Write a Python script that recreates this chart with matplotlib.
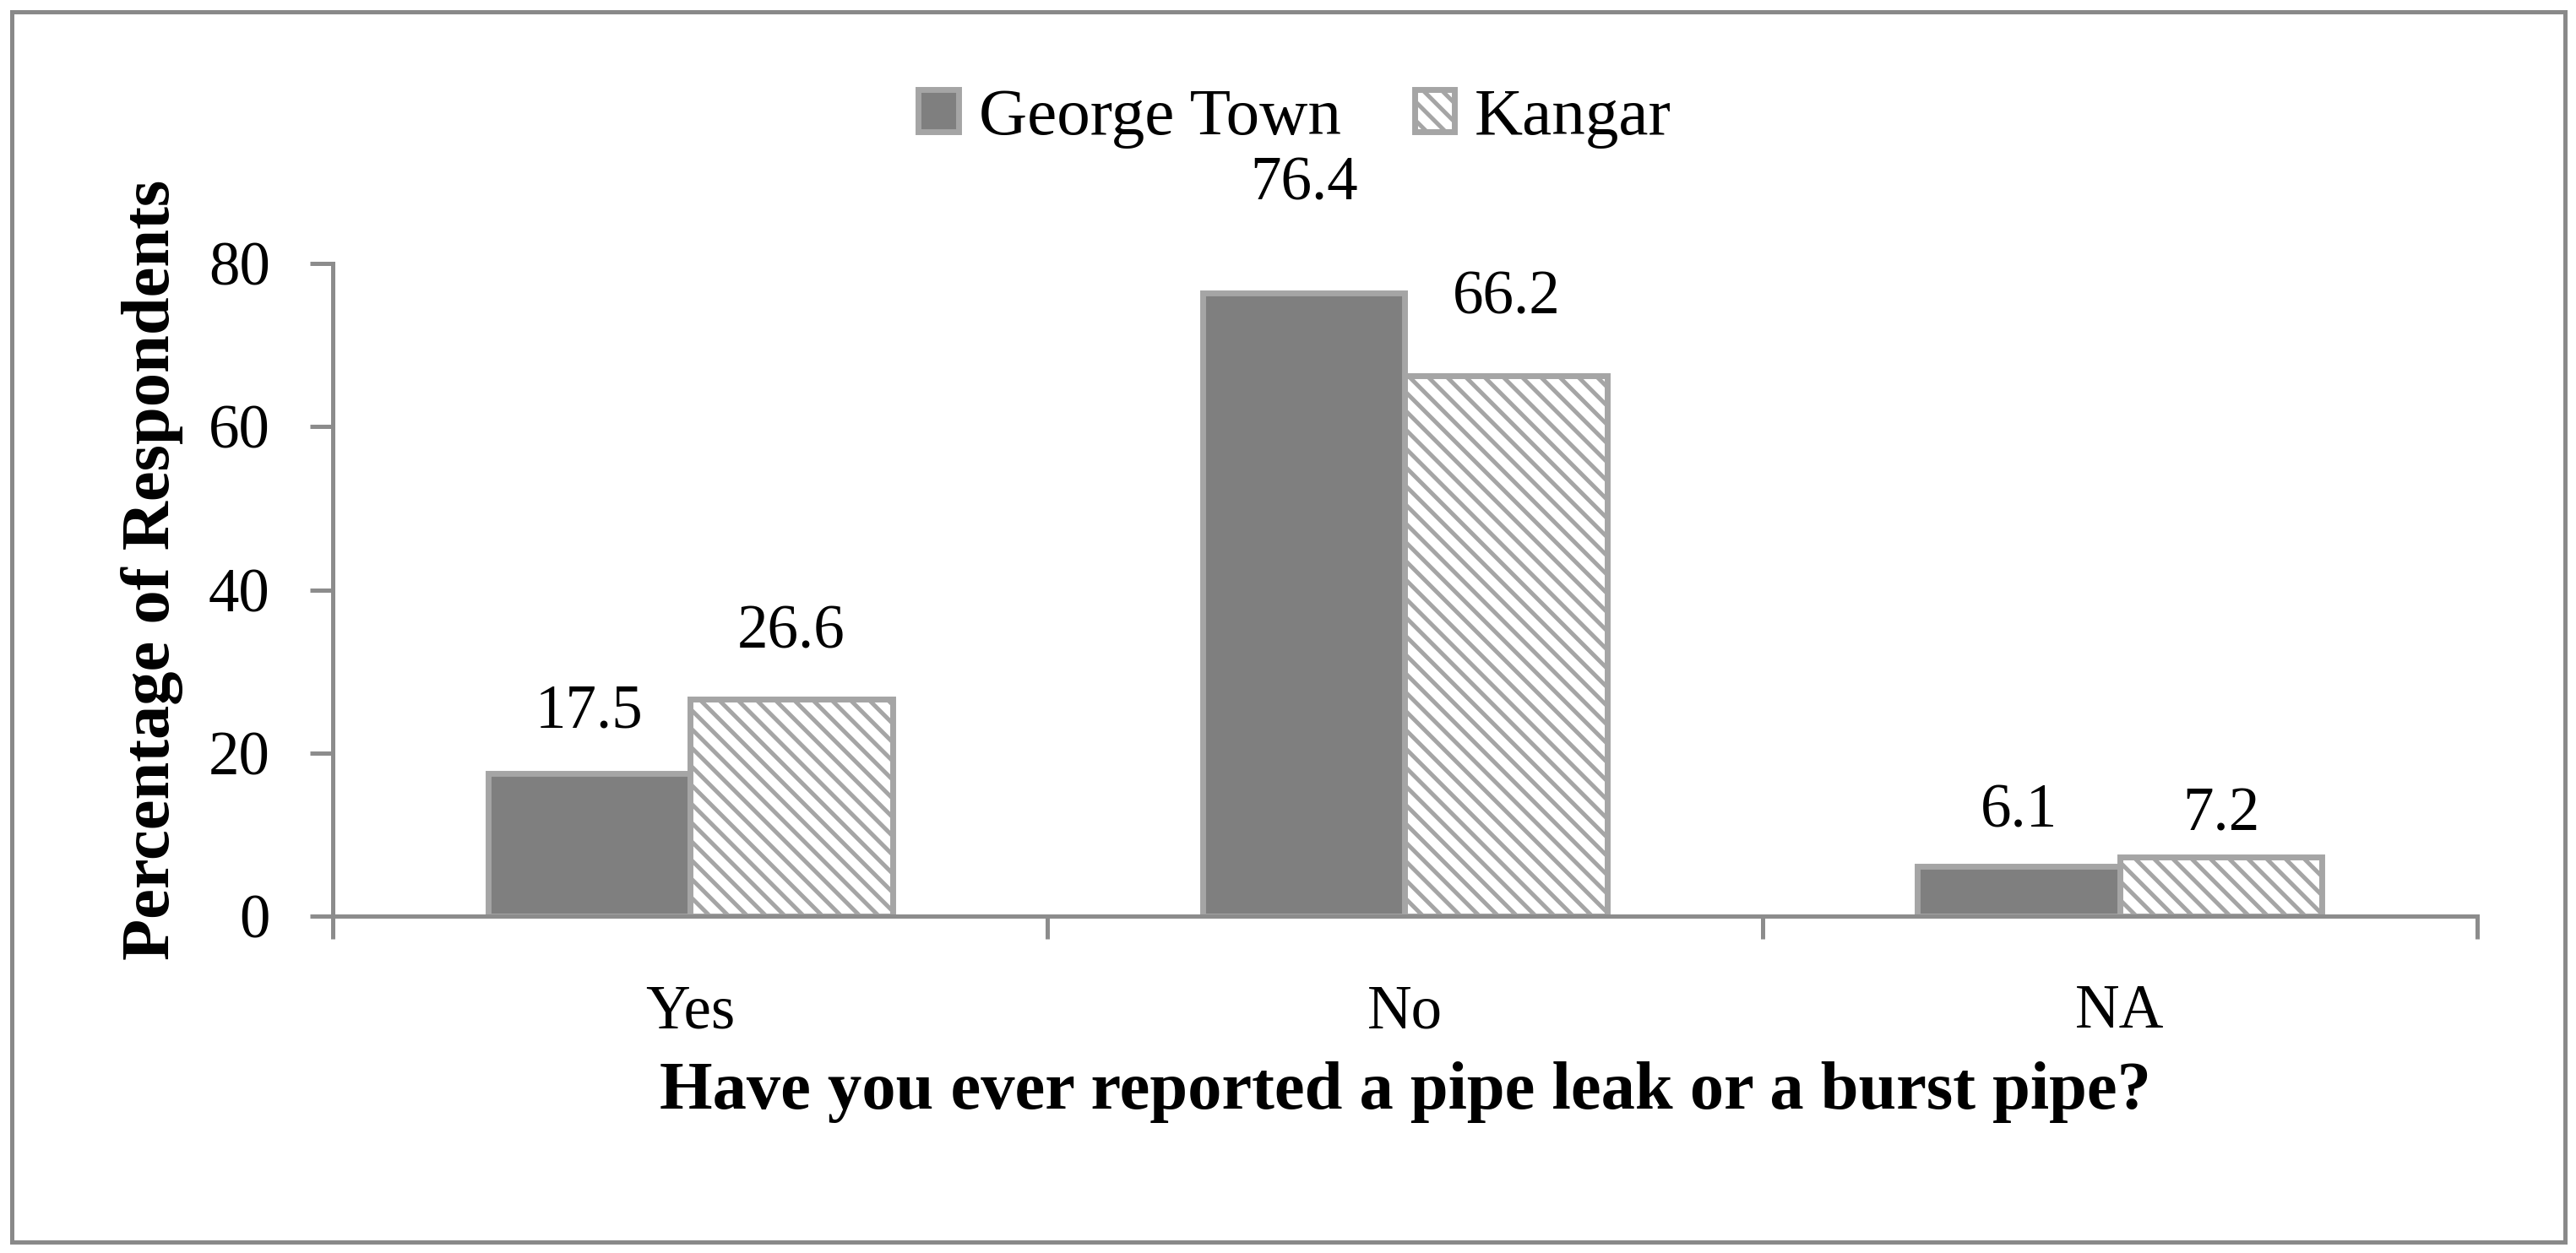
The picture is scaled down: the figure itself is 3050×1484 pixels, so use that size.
import numpy as np
import matplotlib
matplotlib.use("Agg")
import matplotlib.pyplot as plt
from matplotlib.patches import Rectangle

# data
categories = ["Yes", "No", "NA"]
george_town = [17.5, 76.4, 6.1]
kangar = [26.6, 66.2, 7.2]
series_names = ["George Town", "Kangar"]
y_ticks = [0, 20, 40, 60, 80]

# label offsets above each bar (points), as placed in the original
gt_label_offset = [26, 46, 23]
kg_label_offset = [28, 33, 18]

plt.rcParams["font.family"] = ["Liberation Serif", "DejaVu Serif"]
plt.rcParams["hatch.linewidth"] = 1.8
plt.rcParams["hatch.color"] = "#7f7f7f"

W, H, DPI = 3050, 1484, 200
fig = plt.figure(figsize=(W / DPI, H / DPI), dpi=DPI)
ax = fig.add_axes([394 / W, 1 - 1085 / H, (2933 - 394) / W, (1085 - 312) / H])

edge = "#a5a5a5"
axis_gray = "#8c8c8c"
fs = 26.3       # ticks and value labels
fs_leg = 28.5
fs_lab = 29

x = np.arange(len(categories))
bw = 0.283
b1 = ax.bar(x - bw / 2, george_town, bw, color="#7f7f7f", edgecolor=edge,
            linewidth=2.5, label=series_names[0], zorder=2)
b2 = ax.bar(x + bw / 2, kangar, bw, color="white", edgecolor=edge, hatch="\\\\\\",
            linewidth=2.5, label=series_names[1], zorder=2)

for bars, vals, offs in [(b1, george_town, gt_label_offset), (b2, kangar, kg_label_offset)]:
    for rect, v, off in zip(bars, vals, offs):
        ax.annotate(f"{v:.1f}", (rect.get_x() + rect.get_width() / 2, v),
                    xytext=(0, off), textcoords="offset points",
                    ha="center", va="center", fontsize=fs)

ax.set_xlim(-0.5, len(categories) - 0.5)
ax.set_ylim(0, 80)
ax.set_yticks(y_ticks)
ax.tick_params(axis="y", labelsize=fs, length=9.7, width=1.8, color=axis_gray, pad=17)

# ticks at the category boundaries, labels at the centres
ax.set_xticks(np.arange(len(categories) + 1) - 0.5)
ax.set_xticklabels([])
ax.set_xticks(x, minor=True)
ax.set_xticklabels(categories, minor=True, fontsize=fs)
ax.tick_params(axis="x", which="major", length=9.7, width=1.8, color=axis_gray)
ax.tick_params(axis="x", which="minor", length=0, pad=29)

for s in ["top", "right"]:
    ax.spines[s].set_visible(False)
for s in ["left", "bottom"]:
    ax.spines[s].set_color(axis_gray)
    ax.spines[s].set_linewidth(1.8)
    ax.spines[s].set_zorder(3)

fig.text(180 / W, 1 - 675 / H, "Percentage of Respondents", rotation=90,
         ha="center", va="center", fontsize=fs_lab, fontweight="bold")
fig.text((394 + 2933) / 2 / W, 1 - 1313 / H,
         "Have you ever reported a pipe leak or a burst pipe?",
         ha="center", va="baseline", fontsize=fs_lab, fontweight="bold")

fig.legend(loc="center", bbox_to_anchor=(1533 / W, 1 - 140 / H), ncol=2,
           frameon=False, fontsize=fs_leg, handlelength=0.6, handleheight=0.6,
           handletextpad=0.3, columnspacing=1.1, borderpad=0)

# grey frame round the whole chart
fig.patches.append(Rectangle((13.5 / W, 1 - 1470.5 / H), (3036.5 - 13.5) / W,
                             (1470.5 - 14) / H, transform=fig.transFigure,
                             fill=False, edgecolor="#898989", linewidth=1.8))

fig.savefig("out.png", dpi=DPI)
